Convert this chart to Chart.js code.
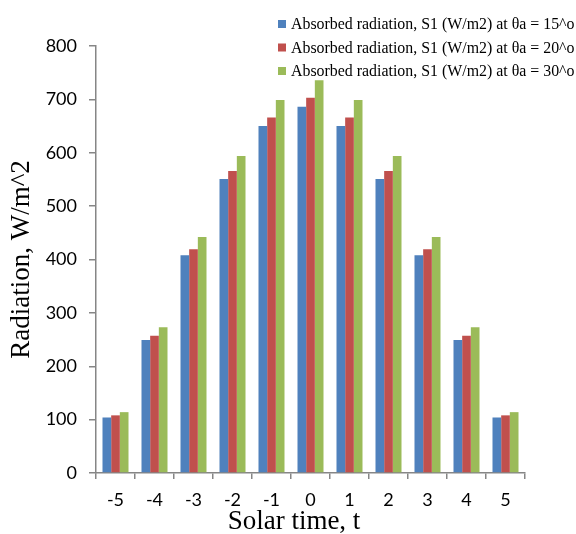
<!DOCTYPE html>
<html>
<head>
<meta charset="utf-8">
<script src="https://cdn.jsdelivr.net/npm/chart.js@4.4.0/dist/chart.umd.min.js"></script>
<style>
  body { margin: 0; background: #ffffff; }
  #caja { width: 576px; height: 534px; }
</style>
</head>
<body>
<div id="caja"><canvas id="barChart" width="576" height="534"></canvas></div>
<script>
// ###########################
//   Datos del grafico
// ###########################
var horas = ['-5', '-4', '-3', '-2', '-1', '0', '1', '2', '3', '4', '5'];

var theta15 = [104, 249, 408, 551, 650, 686, 650, 551, 408, 249, 104];
var theta20 = [108, 257, 419, 566, 666, 703, 666, 566, 419, 257, 108];
var theta30 = [114, 273, 442, 594, 699, 736, 699, 594, 442, 273, 114];

var nombres = [
  'Absorbed radiation, S1 (W/m2) at θa = 15^o',
  'Absorbed radiation, S1 (W/m2) at θa = 20^o',
  'Absorbed radiation, S1 (W/m2) at θa = 30^o'
];
var tituloX = 'Solar time, t';

// paleta tipo excel
var colorAzul = '#4f81bd';
var colorRojo = '#c0504d';
var colorVerde = '#9bbb59';
var colorEje = '#868686';
var fuenteSerif = '"Liberation Serif", "Times New Roman", serif';

// leyenda y titulo X dibujados a mano (como en excel, no centrados en el eje)
var extrasPlugin = {
  id: 'extrasExcel',
  afterDraw: function (chart) {
    var ctx = chart.ctx;
    ctx.save();
    // ajusta el tamaño para que el texto ocupe ~283px como en la imagen
    ctx.font = '16px ' + fuenteSerif;
    var ancho = ctx.measureText(nombres[0]).width;
    var tam = Math.min(17, 16 * 283 / ancho);
    ctx.font = tam.toFixed(1) + 'px ' + fuenteSerif;
    ctx.textBaseline = 'middle';
    ctx.textAlign = 'left';
    chart.data.datasets.forEach(function (ds, i) {
      var y = 24 + i * 23.5;
      ctx.fillStyle = ds.backgroundColor;
      ctx.fillRect(278, y - 4, 8, 8);
      ctx.fillStyle = '#000000';
      ctx.fillText(ds.label, 291, y + 1);
    });
    // titulo eje X
    ctx.font = '27px ' + fuenteSerif;
    ctx.textAlign = 'center';
    ctx.fillText(tituloX, 294, 522);
    ctx.restore();
  }
};

var ctxBar = document.getElementById('barChart').getContext('2d');
var barChart = new Chart(ctxBar, {
  type: 'bar',
  data: {
    labels: horas,
    datasets: [
      { label: nombres[0], data: theta15, backgroundColor: colorAzul },
      { label: nombres[1], data: theta20, backgroundColor: colorRojo },
      { label: nombres[2], data: theta30, backgroundColor: colorVerde }
    ]
  },
  options: {
    responsive: false,
    animation: false,
    layout: { padding: { top: 46, right: 51, left: 0, bottom: 0 } },
    datasets: {
      bar: { categoryPercentage: 0.667, barPercentage: 1.0, borderWidth: 0 }
    },
    plugins: {
      legend: { display: false },
      tooltip: { enabled: false }
    },
    scales: {
      x: {
        offset: true,
        afterFit: function (s) { s.height = 61; },
        grid: {
          offset: true,
          drawOnChartArea: false,
          drawTicks: true,
          tickLength: 6,
          color: colorEje,
          lineWidth: 1.5
        },
        border: { color: colorEje, width: 1.5 },
        ticks: {
          color: '#000000',
          padding: 10,
          font: { family: 'Lato', size: 18 }
        }
      },
      y: {
        min: 0,
        max: 800,
        afterFit: function (s) { s.width = 96; },
        grid: {
          drawOnChartArea: false,
          drawTicks: true,
          tickLength: 7,
          color: colorEje,
          lineWidth: 1.5
        },
        border: { color: colorEje, width: 1.5 },
        ticks: {
          stepSize: 100,
          color: '#000000',
          padding: 12,
          font: { family: 'Lato', size: 18 }
        },
        title: {
          display: true,
          text: 'Radiation, W/m^2',
          color: '#000000',
          padding: { top: 6, bottom: 0 },
          font: { family: fuenteSerif, size: 27, lineHeight: 1.2 }
        }
      }
    }
  },
  plugins: [extrasPlugin]
});
</script>
</body>
</html>
